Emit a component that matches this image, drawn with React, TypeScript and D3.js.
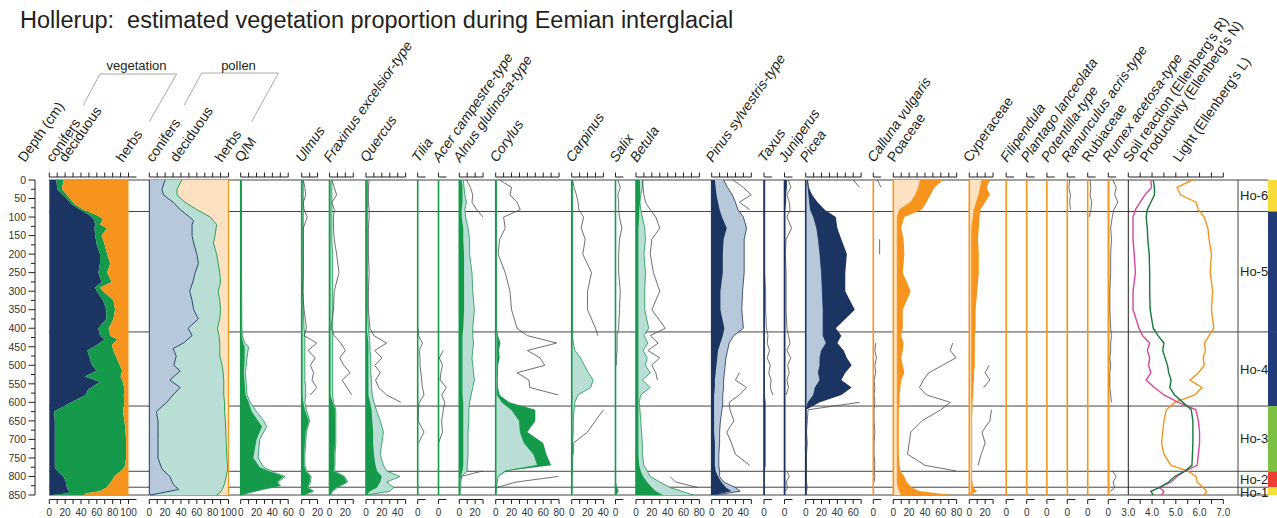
import React from 'react';
import * as d3 from 'd3';

// ---------------- data ----------------
const title = 'Hollerup:\u00A0 estimated vegetation proportion during Eemian interglacial';

const depthTickLabels = [0, 50, 100, 150, 200, 250, 300, 350, 400, 450, 500, 550, 600, 650, 700, 750, 800, 850];
const zoneBounds = [0, 85, 410, 610, 786, 829, 850];
const zoneNames = ['Ho-6', 'Ho-5', 'Ho-4', 'Ho-3', 'Ho-2', 'Ho-1'];

// vegetation (estimated)
const vegDepth = [0,25,50,65,80,95,105,120,130,150,175,200,225,250,275,290,300,325,350,375,400,420,430,445,460,480,500,515,530,545,565,580,600,625,650,700,750,775,785,800,815,830,840,845,850];
const vegConifers = [9,10,22,28,39,51,56,58,57,58,60,64,64,62,66,58,60,68,72,72,62,64,70,60,48,51,54,60,45,64,49,46,28,6,7,7,7,7,10,18,21,22,25,24,3];
const vegDeciduous = [9,6,4,4,4,9,12,6,16,8,10,9,13,11,13,6,8,13,11,9,13,13,16,19,33,34,35,32,45,29,46,48,67,87,88,90,90,88,80,64,57,50,39,23,40];
const vegHerbs = [82,84,74,68,57,40,32,36,27,34,30,27,23,27,21,36,32,19,17,19,25,23,14,21,19,15,11,8,10,7,5,6,5,7,5,3,3,5,10,18,22,28,36,53,57];

// pollen
const polDepth = [0,25,40,60,80,100,110,120,150,170,200,225,250,275,300,325,350,375,400,420,440,455,475,500,515,540,560,580,600,625,650,700,750,780,800,820,835,845,850];
const polConifers = [20,16,18,30,39,51,56,54,54,56,60,62,58,55,51,54,56,62,49,54,43,30,34,31,39,26,39,30,22,9,11,11,11,16,26,30,37,14,1];
const polDeciduous = [21,19,17,15,21,26,25,31,29,25,25,25,31,35,36,35,34,27,37,34,46,59,55,61,54,68,55,64,73,86,85,86,87,83,71,65,55,75,84];
const polHerbs = [59,65,65,55,40,23,19,15,17,19,15,13,11,10,13,11,10,11,14,12,11,11,11,8,7,6,6,6,5,5,4,3,2,1,3,5,8,11,15];

// Q/M
const qmDepth = [0,100,200,300,400,420,440,450,480,520,550,580,600,625,650,665,700,750,775,790,800,815,825,835,845,850];
const qmDark = [0.5,0.5,0.5,0.5,0.8,1,3,5,5,4,5,6,10,14,22,27,20,16,24,41,54,46,49,27,8,0];
const qmLight = [1,1,1,1.2,1.5,2,5,10,8,6,7,8,12,20,29,33,24,22,29,43,56,47,50,28,9,0];

// taxa (common depths)
const taxaDepth = [0,20,40,60,80,100,130,160,200,250,300,350,400,420,440,460,480,500,520,540,560,580,600,620,650,680,710,740,770,785,800,815,830,840,850];
const N = null;

const ulmusDark = [0.6,0.6,0.6,0.6,0.6, 0.6,0.6,0.6,0.6,0.6, 0.6,0.6,0.6,0.6,0.6, 0.6,0.6,0.6,0.6,0.6, 0.6,0.6,2,4,9, 5,4,3,3,5, 11,10,7,14,2];
const ulmusLight = [2,2,2,2,2, 2,2,2,2,2, 2,2,3,4,4, 4,4,4,4,4, 5,5,4,6,10, 6,5,4,4,6, 12,11,8,15,2];
const ulmusLine = [2,4,5,2,3, 7,2,2,2,2, 1,3,6,3,19, 8,17,11,15,13, 19,11,N,N,N, N,N,N,N,N, N,N,N,N,N];

const fraxDark = [1,1,1,1,1, 1,1,1,1,1, 1,1,1,1,1, 1,1,1,1,1, 1,1,4,7,7, 7,7,6,6,5, 18,22,9,3,1];
const fraxLight = [3,3,3,3,3, 3,3,3,4,4, 4,4,4,4,4, 4,4,4,4,4, 4,4,5,8,8, 8,8,7,7,6, 19,23,10,4,1];
const fraxLine = [3,6,9,3,6, 5,5,6,9,12, 6,5,2,6,14, 20,13,18,26,16, 22,28,N,N,N, N,N,N,N,N, N,N,N,N,N];

const quercusDark = [1,1,1,1,1, 1,1,1,1,1, 1,1,1,2,3, 3,3,3,3,3, 3,3,5,7,8, 9,9,10,12,14, 20,18,14,5,1];
const quercusLight = [2,2,2,2,2, 2,2,2,2,2, 2,2,3,4,5, 5,6,6,6,7, 7,8,10,13,18, 22,20,18,22,26, 43,26,35,30,1];
const quercusLine = [4,3,3,3,4, 4,3,3,3,4, 3,3,5,10,26, 11,20,11,18,12, 16,26,44,N,N, N,N,N,N,N, N,N,N,N,N];

const tiliaDark = [0.4,0.4,0.4,0.4,0.4, 0.4,0.4,0.4,0.4,0.4, 0.4,0.4,0.4,0.4,0.4, 0.4,0.4,0.4,0.4,0.4, 0.4,0.4,0.4,0.4,0.4, 0.4,0.4,0.4,0.4,0.4, 0.4,0.4,0.4,0.4,0.4];
const tiliaLine = [N,N,N,N,N, N,N,N,N,N, N,N,0.5,1,6, 2,3,3,4,5, 6,8,2,1,0.5, 8,1,N,N,N, N,N,N,N,N];

const acerLine = [N,N,N,N,N, N,N,N,N,N, N,N,N,N,N, 6,1,5,3,2, 10,4,8,6,4, 5,0,N,N,N, N,N,N,N,N];

const alnusDark = [3,4,4,4,3, 3,5,5,6,6, 6,6,5,4,4, 4,4,4,4,4, 4,4,5,5,5, 5,5,5,5,4, 2,1,1,1,1];
const alnusLight = [5,6,7,9,7, 8,11,13,13,16, 17,19,17,17,18, 17,16,17,18,19, 17,15,13,12,12, 11,11,11,10,10, 3,2,2,1,1];
const alnusLine = [9,14,17,16,22, 30,N,N,N,N, N,N,N,N,N, N,N,N,N,N, N,N,N,N,N, N,N,N,N,30, 2,N,N,N,N];

const corylusDark = [1,1,1,1,1, 1,1,1,1,1, 1,1,1,3,6, 4,5,3,3,2, 3,5,17,50,50, 40,60,64,70,14, 3,2,1,1,0];
const corylusLight = [1,1,1,1,1, 1,1,1,1,1, 1,1,1,2,2, 2,2,2,2,2, 2,2,8,20,30, 31,36,48,53,12, 3,2,1,0.5,0];
const corylusLine = [5,20,18,27,31, 10,12,5,3,12, 18,20,27,40,77, 40,56,62,27,42, 43,79,N,N,N, N,N,N,N,N, 79,26,1,N,N];

const carpinusDark = [0.5,0.5,0.5,0.5,0.5, 0.5,0.5,0.5,0.5,0.5, 0.5,0.5,0.5,0.5,0.5, 0.5,0.5,0.5,0.5,0.5, 0.5,0.5,0.5,0.5,0.5, 0.5,0.5,0.5,0.5,0.5, 0.5,0.5,0.5,0.5,0];
const carpinusLight = [1,1,1,1,1, 1,1,1,1,1, 1,1,1,1,2, 4,11,16,21,27, 24,8,4,3,2, 2,1,1,1,1, 0.5,0.5,0.5,0.5,0];
const carpinusLine = [1,3,6,8,9, 15,12,17,14,25, 20,20,30,33,N, N,N,N,N,N, N,N,N,40,30, 20,2,2,N,N, N,N,N,N,N];

const salixDark = [0.5,0.5,0.5,0.5,0.5, 0.5,0.5,0.5,0.5,0.5, 0.5,0.5,0.5,0.5,0.5, 0.5,0.5,0.5,0.5,0.5, 0.5,0.5,0.5,0.5,0.5, 0.5,0.5,0.5,0.5,0.5, 0.5,0.5,2,4,1];
const salixLine = [3,6,3,4,4, 5,8,5,4,4, 6,5,4,2,2, 2,1,1,N,N, N,N,N,N,N, N,N,N,N,N, N,N,N,N,N];

const betulaDark = [5,5,5,5,4, 4,3,3,3,3, 3,3,3,3,3, 3,3,3,3,3, 3,3,3,3,3, 3,3,3,4,6, 9,14,20,25,34];
const betulaLight = [9,8,6,5,6, 8,11,12,10,12, 11,11,16,10,15, 9,14,12,18,8, 18,6,4,5,6, 7,8,8,10,14, 18,30,43,58,72];
const betulaLine = [8,9,10,12,18, 25,30,20,18,22, 30,20,37,18,28, 15,30,20,25,27, N,N,N,N,N, N,N,N,N,N, 43,50,78,N,N];

const pinusDark = [4,5,6,8,10, 13,19,15,14,14, 11,11,16,14,11, 8,7,6,5,4, 4,3,3,3,3, 3,4,4,4,5, 8,12,18,25,2];
const pinusLight = [15,20,26,30,33, 40,44,41,41,41, 39,38,40,28,22, 20,18,17,16,15, 15,14,14,13,11, 10,10,9,9,10, 10,15,30,36,4];
const pinusLine = [27,40,50,35,48, N,N,N,N,N, N,N,N,N,N, N,N,N,35,30, 44,35,22,23,28, 19,25,30,48,N, N,N,N,N,N];

const taxusDark = [1,1,1,1,1, 1,1,1,1,1, 1,1,1,1,1, 1,1,1,1,1, 1,1,2,2,2, 2,2,2,2,1, 1,1,1,1,1];
const taxusLine = [1,1,1,1,1, 1,1,1,1,1, 2,2,3,5,4, 7,4,8,6,9, 8,11,N,N,N, N,N,N,N,N, N,N,N,N,N];

const juniperusDark = [3,3,2,2,1, 1,1,1,1,1, 1,1,1,1,1, 1,1,1,1,1, 1,1,1,1,1, 1,1,1,1,1, 1,1,1,1,1];
const juniperusLine = [5,8,3,6,7, 3,9,2,1,2, 2,2,3,5,7, 3,8,4,6,3, 5,2,N,N,N, N,N,N,N,3, 6,2,4,1,N];

const piceaDark = [3,4,8,15,24, 38,40,45,52,50, 50,62,38,45,40, 48,52,58,50,45, 58,45,18,0.5,0.5, 0.5,0.5,0.5,0.5,0.5, 0.5,0.5,0.5,0.5,0.5];
const piceaLight = [2,3,4,5,6, 10,14,16,18,20, 21,22,22,22,26, 20,18,18,16,18, 12,10,3,0.5,0.5, 0.5,0.5,0.5,0.5,0.5, 0.5,0.5,0.5,0.5,0.5];
const piceaLine = [60,68,N,N,N, N,N,N,N,N, N,N,N,N,N, N,N,N,N,N, N,N,68,3,2, 1,2,1,1,1, 1,1,2,1,N];

const callunaDark = [0.8,0.8,0.8,0.8,0.8, 0.8,0.8,0.8,0.8,0.8, 0.8,0.8,0.8,0.8,0.8, 0.8,0.8,0.8,0.8,0.8, 0.8,0.8,0.8,0.8,0.8, 0.8,0.8,0.8,0.8,0.8, 0.8,0.8,0.8,0.8,0.8];
const callunaLine = [5,10,N,N,N, N,N,8,8,N, N,N,N,N,3, 2,4,2,3,1, 2,1,2,1,1, 2,1,1,2,1, 2,1,N,N,N];

const poaceaeDark = [63,52,47,42,36, 14,10,13,14,12, 22,12,12,10,13, 12,10,12,14,10, 9,8,8,7,7, 7,7,7,8,9, 14,17,23,34,74];
const poaceaeLight = [34,32,28,22,8, 5,5,5,5,5, 5,5,5,5,5, 5,5,5,5,5, 5,5,5,5,5, 5,5,5,5,5, 5,5,6,8,10];
const poaceaeLine = [N,N,N,N,N, N,N,N,N,N, N,N,N,N,75, 72,79,62,45,38, 33,42,72,60,36, 22,20,18,40,79, N,N,N,N,N];

const cyperDark = [26,22,26,20,14, 13,12,11,12,12, 10,8,8,7,7, 7,7,7,6,6, 5,5,4,4,3, 3,3,3,3,3, 3,4,5,10,1];
const cyperLight = [16,14,12,9,6, 5,3,3,3,3, 3,3,3,3,3, 3,3,3,3,3, 3,3,3,3,3, 3,3,3,3,3, 3,3,3,3,1];
const cyperLine = [N,N,N,N,N, N,N,N,N,N, N,N,N,N,N, N,N,25,20,26, 18,N,N,28,26, 16,20,15,11,N, N,N,N,N,N];

const ranunculusLine = [3,2,4,3,4, N,N,N,N,N, N,N,N,N,N, N,N,N,N,N, N,N,N,N,N, N,N,N,N,N, N,N,N,N,N];
const rubiaceaeLine = [3,4,3,5,4, 2,N,N,N,N, N,N,N,N,N, N,N,N,N,N, N,N,N,N,N, N,N,N,N,N, N,N,N,N,N];
const rumexDark = [1.5,1.5,1.5,1.5,1.5, 1.5,1.5,1.5,1.5,1.5, 1.5,1.5,1.5,1.5,1.5, 1.5,1.5,1.5,1.5,1.5, 1.5,1.5,1.5,1.5,1.5, 1.5,1.5,1.5,1.5,1.5, 1.5,1.5,1.5,1.5,1.5];
const rumexLine = [6,10,8,12,7, 5,3,4,3,3, 2,2,3,4,3, 3,2,3,2,2, 2,3,4,N,N, N,N,N,N,5, 10,6,8,3,N];

// Ellenberg indicator values
const ellR = [3.95,3.98,3.7,3.5,3.3, 3.2,3.2,3.2,3.25,3.3, 3.2,3.2,3.45,3.6,3.9, 3.8,3.9,3.85,3.95,3.75, 4.1,4.5,5.1,5.85,5.95, 6.0,6.0,5.95,5.9,5.4, 5.05,4.8,4.3,4.5,4.4];
const ellN = [4.05,4.1,4.1,3.95,3.8, 3.75,3.8,3.82,3.88,3.9, 3.9,3.92,4.05,4.25,4.5, 4.45,4.55,4.65,4.7,4.8, 4.75,4.95,5.3,5.65,5.72, 5.72,5.72,5.7,5.68,5.4, 4.95,4.7,4.3,3.95,4.05];
const ellL = [5.7,5.05,5.2,5.85,5.95, 6.2,6.35,6.4,6.5,6.45, 6.55,6.5,6.6,6.4,6.2, 6.25,6.15,6.2,5.95,5.6, 6.1,5.8,4.95,4.6,4.5, 4.45,4.4,4.5,4.8,5.5, 5.85,5.9,6.15,6.3,6.2];
const ellTicks = [3, 3.5, 4, 4.5, 5, 5.5, 6, 6.5, 7];
const ellLabels = [3, 4, 5, 6, 7];

// ---------------- styles / layout ----------------
const FONT = "'Liberation Sans', Arial, Helvetica, sans-serif";
const PX = 0.792; // px per percent
const COL = {
  dec: { dark: '#15994a', light: '#b8ded5', edge: '#15994a' },
  con: { dark: '#1c3461', light: '#b7c8da', edge: '#1c3461' },
  herb: { dark: '#f7941d', light: '#fce2c1', edge: '#f7941d' },
};
const TXT = '#231f20';
const AX_TOP = 177;
const AX_BOT = 499.5;

type Panel = {
  name: string; italic: boolean; x0: number; ext: number; group: 'dec' | 'con' | 'herb';
  single?: boolean; dark?: number[]; light?: number[]; line?: (number | null)[]; depth?: number[];
};

const panels: Panel[] = [
  { name: 'Q/M', italic: false, x0: 240.7, ext: 60, group: 'dec', dark: qmDark, light: qmLight, depth: qmDepth },
  { name: 'Ulmus', italic: true, x0: 301.7, ext: 20, group: 'dec', dark: ulmusDark, light: ulmusLight, line: ulmusLine },
  { name: 'Fraxinus excelsior-type', italic: true, x0: 329.5, ext: 30, group: 'dec', dark: fraxDark, light: fraxLight, line: fraxLine },
  { name: 'Quercus', italic: true, x0: 366, ext: 50, group: 'dec', dark: quercusDark, light: quercusLight, line: quercusLine },
  { name: 'Tilia', italic: true, x0: 417.7, ext: 10, single: true, group: 'dec', dark: tiliaDark, line: tiliaLine },
  { name: 'Acer campestre-type', italic: true, x0: 438.5, ext: 10, single: true, group: 'dec', line: acerLine },
  { name: 'Alnus glutinosa-type', italic: true, x0: 459.3, ext: 30, group: 'dec', dark: alnusDark, light: alnusLight, line: alnusLine },
  { name: 'Corylus', italic: true, x0: 495.7, ext: 80, group: 'dec', dark: corylusDark, light: corylusLight, line: corylusLine },
  { name: 'Carpinus', italic: true, x0: 571.7, ext: 40, group: 'dec', dark: carpinusDark, light: carpinusLight, line: carpinusLine },
  { name: 'Salix', italic: true, x0: 615.5, ext: 10, single: true, group: 'dec', dark: salixDark, line: salixLine },
  { name: 'Betula', italic: true, x0: 636, ext: 80, group: 'dec', dark: betulaDark, light: betulaLight, line: betulaLine },
  { name: 'Pinus sylvestris-type', italic: true, x0: 711.7, ext: 50, group: 'con', dark: pinusDark, light: pinusLight, line: pinusLine },
  { name: 'Taxus', italic: true, x0: 764, ext: 10, single: true, group: 'con', dark: taxusDark, line: taxusLine },
  { name: 'Juniperus', italic: true, x0: 784.5, ext: 10, single: true, group: 'con', dark: juniperusDark, line: juniperusLine },
  { name: 'Picea', italic: true, x0: 805.7, ext: 70, group: 'con', dark: piceaDark, light: piceaLight, line: piceaLine },
  { name: 'Calluna vulgaris', italic: true, x0: 873.3, ext: 10, single: true, group: 'herb', dark: callunaDark, line: callunaLine },
  { name: 'Poaceae', italic: false, x0: 893.3, ext: 80, group: 'herb', dark: poaceaeDark, light: poaceaeLight, line: poaceaeLine },
  { name: 'Cyperaceae', italic: false, x0: 969.3, ext: 30, group: 'herb', dark: cyperDark, light: cyperLight, line: cyperLine },
  { name: 'Filipendula', italic: true, x0: 1006.2, ext: 10, single: true, group: 'herb' },
  { name: 'Plantago lanceolata', italic: true, x0: 1026.7, ext: 10, single: true, group: 'herb' },
  { name: 'Potentilla-type', italic: true, x0: 1046.9, ext: 10, single: true, group: 'herb' },
  { name: 'Ranunculus acris-type', italic: true, x0: 1067.3, ext: 10, single: true, group: 'herb', line: ranunculusLine },
  { name: 'Rubiaceae', italic: false, x0: 1087.7, ext: 10, single: true, group: 'herb', line: rubiaceaeLine },
  { name: 'Rumex acetosa-type', italic: true, x0: 1108.3, ext: 10, single: true, group: 'herb', dark: rumexDark, line: rumexLine },
];

const y = d3.scaleLinear().domain([0, 850]).range([180, 495]);

function Axes({ scale, ticks, labels, lineStart, lineEnd, fmt }: any) {
  return (
    <g stroke="#231f20" strokeWidth={1} fill="none">
      <line x1={lineStart} x2={lineEnd} y1={AX_TOP} y2={AX_TOP} />
      <line x1={lineStart} x2={lineEnd} y1={AX_BOT} y2={AX_BOT} />
      {ticks.map((t: number) => (
        <g key={t}>
          <line x1={scale(t)} x2={scale(t)} y1={AX_TOP} y2={AX_TOP - 4.5} />
          <line x1={scale(t)} x2={scale(t)} y1={AX_BOT} y2={AX_BOT + 4.5} />
        </g>
      ))}
      {labels.map((t: number) => (
        <text key={'l' + t} x={scale(t)} y={515.5} textAnchor="middle" fontSize={10} fill="#333" stroke="none">
          {fmt ? fmt(t) : t}
        </text>
      ))}
    </g>
  );
}

function TaxonPanel({ p }: { p: Panel }) {
  const x = d3.scaleLinear().domain([0, p.ext]).range([p.x0, p.x0 + p.ext * PX]);
  const depth = p.depth || taxaDepth;
  const c = COL[p.group];
  const area = d3.area<number>().y((_, i) => y(depth[i])).x0(x(0)).x1((d) => x(d));
  const edge = d3.line<number>().y((_, i) => y(depth[i])).x((d) => x(d));
  const exag = d3.line<number | null>()
    .defined((d) => d != null)
    .y((_, i) => y(depth[i]))
    .x((d) => x(d as number));
  const series: { kind: string; vals: number[] }[] = [];
  if (p.light) series.push({ kind: 'light', vals: p.light });
  if (p.dark) series.push({ kind: 'dark', vals: p.dark });
  series.sort((a, b) => d3.sum(b.vals) - d3.sum(a.vals));
  const ticks = p.single ? [0] : d3.range(0, p.ext + 0.001, 10);
  const labels = p.single ? [0] : d3.range(0, p.ext + 0.001, 20);
  return (
    <g>
      {series.map((s) =>
        s.kind === 'light' ? (
          <g key="light">
            <path d={area(s.vals) || ''} fill={c.light} />
            <path d={edge(s.vals) || ''} fill="none" stroke={c.edge} strokeWidth={0.8} />
          </g>
        ) : (
          <path key="dark" d={area(s.vals) || ''} fill={c.dark} />
        )
      )}
      {p.line && <path d={exag(p.line) || ''} fill="none" stroke="#4a4a4a" strokeWidth={0.8} />}
      <line x1={x(0)} x2={x(0)} y1={y(0)} y2={y(850)} stroke={c.dark} strokeWidth={1.6} />
      <Axes scale={x} ticks={ticks} labels={labels} lineStart={x(0)} lineEnd={x(p.ext)} />
    </g>
  );
}

function HeaderLabel({ x, text, italic }: { x: number; text: string; italic?: boolean }) {
  return (
    <text
      transform={`translate(${x},163) rotate(-55)`}
      fontSize={14}
      fontStyle={italic ? 'italic' : 'normal'}
      fill={TXT}
    >
      {text}
    </text>
  );
}

export default function App() {
  const W = 1277;
  const H = 518;

  // vegetation panel
  const xv = d3.scaleLinear().domain([0, 100]).range([49.3, 49.3 + 100 * PX]);
  const vegRows = vegDepth.map((d, i) => ({ depth: d, conifers: vegConifers[i], deciduous: vegDeciduous[i], herbs: vegHerbs[i] }));
  const vegStack = d3.stack<any>().keys(['conifers', 'deciduous', 'herbs'])(vegRows);
  const vegArea = d3.area<any>().y((d) => y(d.data.depth)).x0((d) => xv(d[0])).x1((d) => xv(d[1]));
  const vegColors = [COL.con.dark, COL.dec.dark, COL.herb.dark];

  // pollen panel
  const xp = d3.scaleLinear().domain([0, 100]).range([149.3, 149.3 + 100 * PX]);
  const polRows = polDepth.map((d, i) => ({ depth: d, conifers: polConifers[i], deciduous: polDeciduous[i], herbs: polHerbs[i] }));
  const polStack = d3.stack<any>().keys(['conifers', 'deciduous', 'herbs'])(polRows);
  const polArea = d3.area<any>().y((d) => y(d.data.depth)).x0((d) => xp(d[0])).x1((d) => xp(d[1]));
  const polEdge = d3.line<any>().y((d) => y(d.data.depth)).x((d) => xp(d[1]));
  const polColors = [COL.con.light, COL.dec.light, COL.herb.light];

  // Ellenberg
  const xe = d3.scaleLinear().domain([3, 7]).range([1128.3, 1223.3]);
  const ellLine = d3.line<number>().y((_, i) => y(taxaDepth[i])).x((d) => xe(d));

  const zoneColors = ['#f8dc3b', '#233a7a', '#233a7a', '#7cc143', '#ee4136', '#f8dc3b'];

  return (
    <svg width={W} height={H} style={{ position: 'absolute', left: 0, top: 0, background: '#fff' }} fontFamily={FONT}>
      <rect x={0} y={0} width={W} height={H} fill="#fff" />
      <text x={20} y={28} fontSize={23.5} fill={TXT}>{title}</text>

      {/* zone lines */}
      <g stroke="#444" strokeWidth={1}>
        {zoneBounds.map((b) => (
          <line key={b} x1={49} x2={1268} y1={y(b)} y2={y(b)} />
        ))}
        <line x1={1238} x2={1238} y1={y(0)} y2={y(850)} />
      </g>
      {zoneNames.map((z, i) => (
        <g key={z}>
          <rect x={1268} y={y(zoneBounds[i])} width={9} height={y(zoneBounds[i + 1]) - y(zoneBounds[i])} fill={zoneColors[i]} />
          <text x={1240} y={(y(zoneBounds[i]) + y(zoneBounds[i + 1])) / 2 + (i === 5 ? 1.5 : 0)} dy="0.36em" fontSize={13} fill={TXT}>{z}</text>
        </g>
      ))}

      {/* depth axis */}
      <g stroke="#231f20" strokeWidth={1}>
        <line x1={35} x2={35} y1={y(0)} y2={y(850)} />
        {d3.range(0, 851, 25).map((d) => (
          <line key={d} x1={d % 50 === 0 ? 28.5 : 31} x2={35} y1={y(d)} y2={y(d)} />
        ))}
      </g>
      {depthTickLabels.map((d) => (
        <text key={d} x={26} y={y(d)} dy="0.36em" textAnchor="end" fontSize={10.5} fill="#333">{d}</text>
      ))}

      {/* vegetation */}
      {vegStack.map((s, i) => (
        <path key={i} d={vegArea(s as any) || ''} fill={vegColors[i]} />
      ))}
      <Axes scale={xv} ticks={d3.range(0, 101, 10)} labels={d3.range(0, 101, 20)} lineStart={xv(0)} lineEnd={xv(110)} />

      {/* pollen */}
      {polStack.map((s, i) => (
        <path key={i} d={polArea(s as any) || ''} fill={polColors[i]} />
      ))}
      <path d={polEdge(polStack[0] as any) || ''} fill="none" stroke={COL.con.edge} strokeWidth={0.9} />
      <path d={polEdge(polStack[1] as any) || ''} fill="none" stroke={COL.dec.edge} strokeWidth={0.9} />
      <line x1={xp(100)} x2={xp(100)} y1={y(0)} y2={y(850)} stroke={COL.herb.dark} strokeWidth={1.2} />
      <line x1={xp(0)} x2={xp(0)} y1={y(0)} y2={y(850)} stroke={COL.con.dark} strokeWidth={1} />
      <Axes scale={xp} ticks={d3.range(0, 101, 10)} labels={d3.range(0, 101, 20)} lineStart={xp(0)} lineEnd={xp(100)} />

      {/* taxa */}
      {panels.map((p) => (
        <TaxonPanel key={p.name} p={p} />
      ))}

      {/* Ellenberg */}
      <line x1={xe(3)} x2={xe(3)} y1={y(0)} y2={y(850)} stroke="#231f20" strokeWidth={1} />
      <path d={ellLine(ellL) || ''} fill="none" stroke="#f7941d" strokeWidth={1.4} />
      <path d={ellLine(ellR) || ''} fill="none" stroke="#d6469c" strokeWidth={1.4} />
      <path d={ellLine(ellN) || ''} fill="none" stroke="#16793a" strokeWidth={1.4} />
      <Axes scale={xe} ticks={ellTicks} labels={ellLabels} lineStart={xe(3)} lineEnd={xe(7)} fmt={(v: number) => v.toFixed(1)} />

      {/* group brackets */}
      <g stroke="#aaa" strokeWidth={1} fill="none">
        <polyline points="83.3,105 100,74 176.7,74 149.3,121.7" />
        <polyline points="184.3,105 201.7,73 278.3,73 251.7,121.7" />
      </g>
      <text x={136.5} y={70} textAnchor="middle" fontSize={13} fill={TXT}>vegetation</text>
      <text x={238.5} y={70} textAnchor="middle" fontSize={13} fill={TXT}>pollen</text>

      {/* header labels */}
      <HeaderLabel x={25} text="Depth (cm)" />
      <HeaderLabel x={53} text="conifers" />
      <HeaderLabel x={65.7} text="deciduous" />
      <HeaderLabel x={123} text="herbs" />
      <HeaderLabel x={153} text="conifers" />
      <HeaderLabel x={177} text="deciduous" />
      <HeaderLabel x={222} text="herbs" />
      {panels.map((p) => (
        <HeaderLabel key={p.name} x={p.x0 + 1} text={p.name} italic={p.italic} />
      ))}
      <HeaderLabel x={1130} text="Soil reaction (Ellenberg's R)" />
      <HeaderLabel x={1146.7} text="Productivity (Ellenberg's N)" />
      <HeaderLabel x={1180} text="Light (Ellenberg's L)" />
    </svg>
  );
}
